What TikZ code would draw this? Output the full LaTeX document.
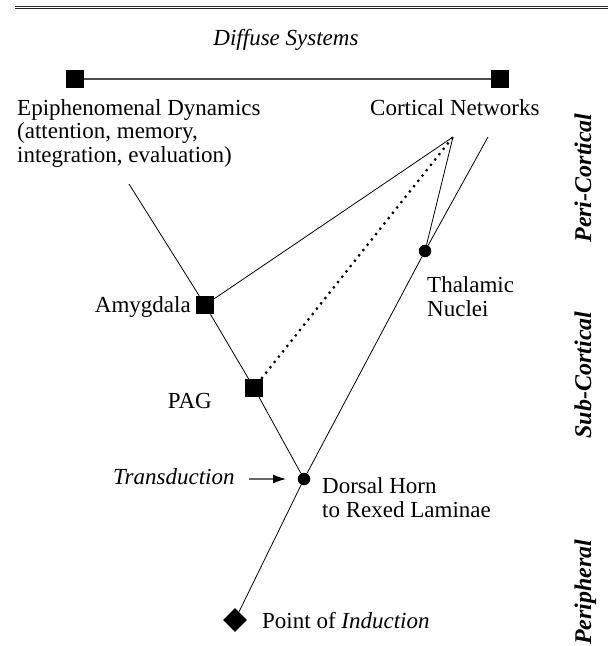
\documentclass[tikz,border=0pt]{standalone}
\usepackage{fontspec}
\setmainfont{Liberation Serif}
\usetikzlibrary{arrows.meta,shapes.geometric}
\begin{document}
\begin{tikzpicture}[x=1pt,y=-1pt,
  lbl/.style={font=\fontsize{23}{23.5}\selectfont, inner sep=0pt, align=left},
  ital/.style={lbl, font=\fontsize{23}{23.5}\selectfont\itshape},
  side/.style={font=\fontsize{24}{24}\selectfont\bfseries\itshape, inner sep=0pt, rotate=90, anchor=base},
  sq/.style={fill=black, minimum size=18pt, inner sep=0pt},
  dot/.style={circle, fill=black, minimum size=12.5pt, inner sep=0pt},
  dia/.style={diamond, fill=black, minimum size=24pt, inner sep=0pt},
  conn/.style={line width=0.8pt},
  dots/.style={line width=2.2pt, dash pattern=on 2.2pt off 4.6pt},
  rule/.style={line width=1pt, black!85}]
\useasboundingbox (0,0) rectangle (608,646);

% double rule across the top
\coordinate (ruleAL) at (15,6.2);  \coordinate (ruleAR) at (608,6.2);
\coordinate (ruleBL) at (15,8.7);  \coordinate (ruleBR) at (608,8.7);
\draw[rule] (ruleAL) -- (ruleAR);
\draw[rule] (ruleBL) -- (ruleBR);

% diffuse systems bar
\node[ital, anchor=base] (diffuse) at (286,45) {Diffuse Systems};
\node[sq] (dsL) at (75,79) {};
\node[sq] (dsR) at (500,79) {};
\draw[line width=1.3pt, black!70] (dsL) -- (dsR);

% multi-line nodes: base anchor sits on the last line
\node[lbl, anchor=base west] (epi) at (17,162)
  {Epiphenomenal Dynamics\\(attention, memory,\\integration, evaluation)};
\node[lbl, anchor=base west] (cortical) at (370,115) {Cortical Networks};

% pathway nodes
\coordinate (leftTop) at (129,184);
\coordinate (apex) at (453,137);
\coordinate (rightTop) at (488,137);
\node[sq] (amy) at (205,305) {};
\node[sq] (pag) at (254,388) {};
\node[dot] (thal) at (425,251) {};
\node[dot] (dorsal) at (304,479) {};
\node[dia] (induct) at (235,620) {};

% connectors
\draw[conn] (leftTop) -- (amy) -- (pag) -- (dorsal);
\draw[conn] (amy) -- (apex);
\draw[dots] (pag) -- (apex);
\draw[conn] (apex) -- (thal);
\draw[conn] (rightTop) -- (thal) -- (dorsal) -- (induct);

% labels
\node[lbl, anchor=base east] (amyL) at (191,312) {Amygdala};
\node[lbl, anchor=base east] (pagL) at (212,408) {PAG};
\node[lbl, anchor=base west] (thalL) at (427,316) {Thalamic\\Nuclei};
\node[lbl, anchor=base west] (dorsalL) at (322,517) {Dorsal Horn\\to Rexed Laminae};
\node[lbl, anchor=base west] (inductL) at (262,628) {Point of \textit{Induction}};
\node[ital, anchor=base west] (trans) at (113,484) {Transduction};
\coordinate (transA) at (249,479);
\coordinate (transB) at (286,479);
\draw[line width=1.2pt, black!60, -{Latex[length=13pt,width=9pt,black]}] (transA) -- (transB);

% levels
\node[side] (peri) at (591,178) {Peri-Cortical};
\node[side] (sub) at (591,375) {Sub-Cortical};
\node[side] (periph) at (591,592) {Peripheral};
\end{tikzpicture}
\end{document}
